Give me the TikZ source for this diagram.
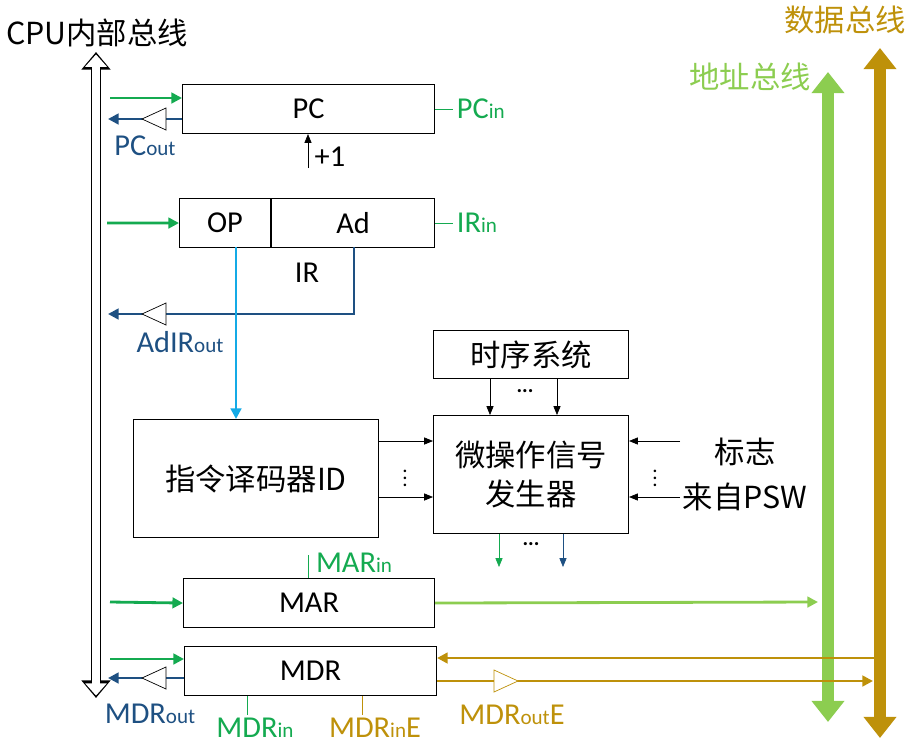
\documentclass[tikz,border=0pt]{standalone}
\usepackage{fontspec}
\setmainfont{Carlito}
\newfontfamily\cjk{Noto Sans CJK SC}
\usetikzlibrary{arrows.meta}
\definecolor{sgreen}{RGB}{20,170,80}
\definecolor{sblue}{RGB}{30,80,130}
\definecolor{lgreen}{RGB}{140,205,80}
\definecolor{brown}{RGB}{190,145,10}
\definecolor{cyanl}{RGB}{20,170,230}
\newcommand{\sig}[2]{{\LARGE #1}{\large #2}}

\begin{document}
\begin{tikzpicture}[x=0.02cm,y=-0.02cm,font=\LARGE,
  reg/.style={draw,semithick,fill=white,inner sep=0pt,anchor=north west},
  inarr/.style={sgreen,line width=1.6pt,-{Triangle[length=6pt,width=6pt]}},
  outarr/.style={sblue,line width=1.6pt,-{Triangle[length=6pt,width=6pt]}},
  ctl/.style={thin,-{Triangle[length=5pt,width=4pt]}},
  buf/.style={draw,fill=white,thin}]
  \useasboundingbox (0,0) rectangle (924,748);

  % buses
  \coordinate (cput) at (96,52);  \coordinate (cpub) at (96,698);
  \draw[line width=6pt,-{Triangle[length=10pt,width=16pt]}] (96,375) -- (cput);
  \draw[line width=6pt,-{Triangle[length=10pt,width=16pt]}] (96,375) -- (cpub);
  \draw[white,line width=4pt,shorten >=1.4pt,-{Triangle[length=7pt,width=12pt]}] (96,375) -- (cput);
  \draw[white,line width=4pt,shorten >=1.4pt,-{Triangle[length=7pt,width=12pt]}] (96,375) -- (cpub);
  \node (cpu) at (97,33) {\cjk\LARGE CPU内部总线};
  \coordinate (dbt) at (880,48); \coordinate (dbb) at (880,738);
  \coordinate (abt) at (828,72); \coordinate (abb) at (828,722);
  \draw[brown,line width=7pt,{Triangle[length=12pt,width=18pt]}-{Triangle[length=12pt,width=18pt]}] (dbt) -- (dbb);
  \draw[lgreen,line width=7pt,{Triangle[length=12pt,width=18pt]}-{Triangle[length=12pt,width=18pt]}] (abt) -- (abb);
  \node[brown] (db) at (845,20) {\cjk\LARGE 数据总线};
  \node[lgreen] (ab) at (750,77) {\cjk\LARGE 地址总线};

  % PC
  \node[reg,minimum width=252*0.02cm,minimum height=49*0.02cm] (pc) at (182,84) {PC};
  \draw[inarr] (110,98) -- (pc.west |- 0,98);
  \draw[outarr] (pc.west |- 0,119) -- (108,119);
  \draw[buf] (142,119) -- (166,108) -- (166,130) -- cycle;
  \node[sblue] (pcout) at (145,146) {\sig{PC}{out}};
  \draw[sgreen] (pc.east) -- ++(18,0) node[right,inner sep=2pt] (pcin) {\sig{PC}{in}};
  \coordinate (inc) at (308,168);
  \draw[ctl] (inc) -- (pc.south -| inc) ;
  \node (plus) at (330,157) {+1};

  % IR
  \node[reg,minimum width=91*0.02cm,minimum height=49*0.02cm] (op) at (179,198) {OP};
  \node[reg,minimum width=163*0.02cm,minimum height=49*0.02cm] (ad) at (op.north east) {Ad};
  \node (ir) at (307,273) {IR};
  \draw[inarr] (107,223) -- (op.west);
  \draw[sgreen] (ad.east) -- ++(18,0) node[right,inner sep=2pt] (irin) {\sig{IR}{in}};
  \draw[outarr] (354,247) -- (354,314) -- (108,314);
  \draw[buf] (142,314) -- (166,303) -- (166,325) -- cycle;
  \node[sblue] (adout) at (180,342) {\sig{AdIR}{out}};

  % control unit
  \node[reg,minimum width=195*0.02cm,minimum height=48*0.02cm,font=\cjk\LARGE] (seq) at (433,330) {时序系统};
  \node[reg,minimum width=195*0.02cm,minimum height=118*0.02cm,align=center,font=\cjk\LARGE] (gen) at (433,415) {微操作信号\\发生器};
  \node[reg,minimum width=245*0.02cm,minimum height=118*0.02cm,font=\cjk\LARGE] (id) at (133,419) {指令译码器ID};
  \draw[cyanl,line width=1.6pt,-{Triangle[length=6pt,width=6pt]}] (236,247) -- (id.north -| 236,0);
  \draw[ctl] (seq.south -| 490,0) -- (gen.north -| 490,0);
  \draw[ctl] (seq.south -| 557,0) -- (gen.north -| 557,0);
  \node[font=\large] (d1) at (525,391) {\textbf{...}};
  \draw[ctl] (id.east |- 0,441) -- (gen.west |- 0,441);
  \draw[ctl] (id.east |- 0,497) -- (gen.west |- 0,497);
  \node[font=\large,inner sep=0pt] (d2) at (405,473) {$\vdots$};
  \draw[ctl] (680,441) -- (gen.east |- 0,441);
  \draw[ctl] (680,497) -- (gen.east |- 0,497);
  \node[font=\large,inner sep=0pt] (d3) at (655,473) {$\vdots$};
  \node[font=\cjk\LARGE] (flag) at (745,452) {标志};
  \node[font=\cjk\LARGE] (psw) at (745,497) {来自PSW};
  \draw[sgreen,ctl] (gen.south -| 499,0) -- (499,567);
  \draw[sblue,ctl] (gen.south -| 563,0) -- (563,567);
  \node[font=\large] (d4) at (531,544) {\textbf{...}};

  % MAR
  \node[reg,minimum width=251*0.02cm,minimum height=49*0.02cm] (mar) at (183,578) {MAR};
  \draw[sgreen] (308,555) -- (mar.north -| 308,0);
  \node[sgreen] (marin) at (354,563) {\sig{MAR}{in}};
  \draw[inarr] (110,602) -- (mar.west);
  \draw[lgreen,line width=1.6pt,-{Triangle[length=6pt,width=6pt]}] (mar.east) -- (818,602);

  % MDR
  \node[reg,minimum width=252*0.02cm,minimum height=49*0.02cm] (mdr) at (184,646) {MDR};
  \draw[inarr] (110,659) -- (mdr.west |- 0,659);
  \draw[outarr] (mdr.west |- 0,678) -- (108,678);
  \draw[buf] (142,678) -- (166,667) -- (166,689) -- cycle;
  \node[sblue] (mdrout) at (150,714) {\sig{MDR}{out}};
  \draw[sgreen] (mdr.south -| 247,0) -- (247,715);
  \node[sgreen] (mdrin) at (255,728) {\sig{MDR}{in}};
  \draw[brown] (mdr.south -| 362,0) -- (362,715);
  \node[brown] (mdrine) at (375,728) {\sig{MDR}{in}\LARGE E};
  \draw[brown,line width=1.6pt,-{Triangle[length=6pt,width=6pt]}] (880,658) -- (mdr.east |- 0,658);
  \draw[brown,line width=1.6pt,-{Triangle[length=6pt,width=6pt]}] (mdr.east |- 0,681) -- (873,681);
  \draw[buf,draw=brown] (518,681) -- (494,670) -- (494,692) -- cycle;
  \node[brown] (mdroute) at (512,715) {\sig{MDR}{out}\LARGE E};
\end{tikzpicture}
\end{document}
